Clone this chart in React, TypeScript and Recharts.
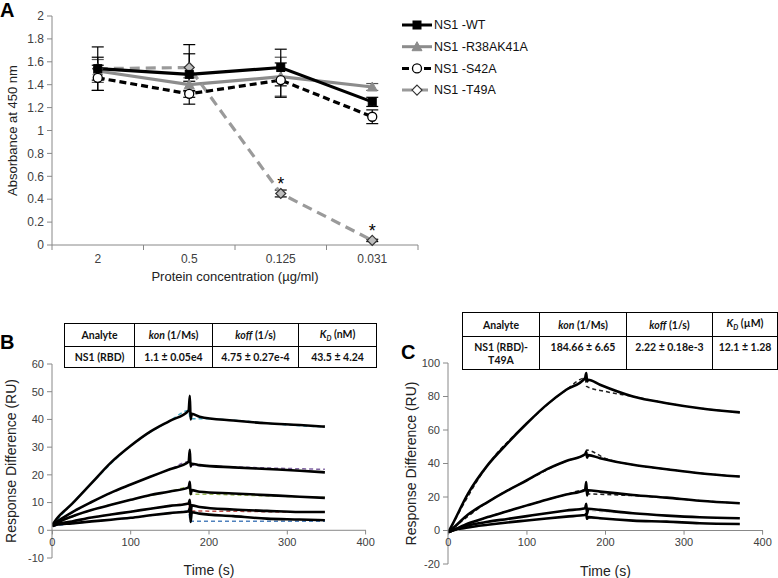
import { LineChart, Line, XAxis, YAxis, ErrorBar, LabelList, Legend, ReferenceLine } from 'recharts';

const FONT = '"Liberation Sans", Arial, sans-serif';
const AXIS = '#888';
const TICK = '#404040';

// ---- panel A: absorbance vs protein concentration ----
const concentrations = ['2', '0.5', '0.125', '0.031'];
const wtValues = [1.54, 1.49, 1.55, 1.25];
const wtErrors = [0.19, 0.26, 0.16, 0.04];
const r38Values = [1.52, 1.4, 1.47, 1.38];
const r38Errors = [0.1, 0.06, 0.17, 0.03];
const s42Values = [1.46, 1.32, 1.44, 1.12];
const s42Errors = [0.11, 0.03, 0.15, 0.06];
const t49Values = [1.54, 1.55, 0.45, 0.04];
const t49Errors = [0.1, 0.12, 0.03, 0.01];
const t49Stars = ['', '', '*', '*'];
const absTicks = [0, 0.2, 0.4, 0.6, 0.8, 1, 1.2, 1.4, 1.6, 1.8, 2];
const concTicks = [0, 0.5, 1, 1.5, 2, 2.5, 3, 3.5, 4];

// ---- panel B: NS1 (RBD) sensorgram ----
const bTimes = [0, 5, 25, 50, 75, 100, 125, 150, 174, 175.5, 176.5, 178, 188, 231, 274, 316, 348];
const bCurve1 = [2, 4, 9.5, 17, 24.5, 30.5, 35.6, 39.5, 43.2, 48.5, 40, 42, 41, 39.6, 38.6, 38, 37.4];
const bCurve2 = [2, 3, 6.5, 10.2, 13.6, 16.5, 19.3, 22, 24.7, 29, 23, 24, 23.5, 22.7, 22.1, 21.5, 20.9];
const bCurve3 = [2, 2.7, 5, 7.3, 9.2, 11, 12.7, 14, 15.5, 17.5, 13, 14.5, 13.9, 13.3, 12.7, 12.1, 11.7];
const bCurve4 = [1.5, 2.2, 3.2, 4.6, 5.7, 6.7, 7.8, 8.8, 9.7, 11, 6, 9, 8.4, 7.5, 7, 6.6, 6.6];
const bCurve5 = [1.5, 2, 2.5, 3.2, 3.8, 4.5, 5.4, 6.2, 6.9, 8, 3, 6.5, 6, 5.1, 4.2, 3.9, 3.6];
const bFitTimes = [0, 50, 100, 150, 174, 176, 200, 250, 300, 348];
const bFit1 = [2, 17, 30.5, 39.5, 43.2, 40.3, 40.2, 39.3, 38, 37.3];
const bFit2 = [2, 10.2, 16.5, 22, 24.7, 23.6, 23.2, 22.7, 22.3, 22];
const bFit3 = [2, 7.3, 11, 14, 15.5, 13, 13, 12.6, 12.2, 11.8];
const bFit4 = [1.5, 4.6, 6.7, 8.8, 9.7, 7, 6.9, 6.8, 6.6, 6.6];
const bFit5 = [1.5, 3.2, 4.5, 6.2, 6.9, 3.3, 3.3, 3.3, 3.3, 3.3];
const bFitColors = ['#4bacc6', '#8064a2', '#9bbb59', '#c0504d', '#4f81bd'];
const bTicks = [-10, 0, 10, 20, 30, 40, 50, 60];

// ---- panel C: NS1 (RBD)-T49A sensorgram ----
const cTimes = [0, 5, 25, 50, 75, 100, 125, 150, 174, 175.5, 176.5, 178, 193, 235, 278, 320, 371];
const cCurve1 = [-1, 3.5, 22, 39, 52, 64, 75, 84, 91, 94, 89, 90, 87, 80, 76, 73, 70.5];
const cCurve2 = [-1, 1, 9.5, 17, 23.8, 30, 36.5, 41.5, 45.5, 47, 43.5, 45, 43.2, 39.2, 36.6, 34.2, 32.2];
const cCurve3 = [-1, 0, 4.2, 8, 11.5, 15, 18.4, 21.5, 24.2, 29, 21, 24, 23.2, 21.2, 19.6, 17.8, 16.3];
const cCurve4 = [-1, 0, 3, 5.2, 6.9, 8.6, 10.3, 11.9, 13.3, 16, 10, 13, 12.3, 10.3, 8.9, 7.9, 7.3];
const cCurve5 = [-1, 0, 1.8, 3.4, 4.8, 6, 7.2, 8.3, 9.2, 10, 7, 8, 7.3, 5.9, 5.3, 4.3, 3.9];
const cFitTimes = [0, 50, 100, 150, 174, 176, 200, 235, 278, 320, 371];
const cFit1 = [-1, 39, 64, 84, 91, 86, 83, 80, 76, 73, 70.5];
const cFit2 = [-1, 17, 30, 41.5, 45.5, 48, 43, 39.2, 36.6, 34.2, 32.2];
const cFit3 = [-1, 8, 15, 21.5, 24.2, 22, 21.5, 20.8, 19.6, 17.8, 16.3];
const cFit4 = [-1, 5.2, 8.6, 11.9, 13.3, 12, 11, 10.1, 8.9, 7.9, 7.3];
const cFit5 = [-1, 3.4, 6, 8.3, 9.2, 7.5, 6.8, 5.9, 5.3, 4.3, 3.9];
const cFitColors = ['#222', '#222', '#222', '#ddd', '#ddd'];
const cTicks = [-20, 0, 20, 40, 60, 80, 100];
const timeTicks = [0, 100, 200, 300, 400];

// ---- kinetics tables ----
const bHeaders = [
  { it: '', txt: 'Analyte' },
  { it: 'kon', txt: ' (1/Ms)' },
  { it: 'koff', txt: ' (1/s)' },
  { it: 'K', sub: 'D', txt: ' (nM)' },
];
const bRow = ['NS1 (RBD)', '1.1 ± 0.05e4', '4.75 ± 0.27e-4', '43.5 ± 4.24'];
const cHeaders = [
  { it: '', txt: 'Analyte' },
  { it: 'kon', txt: ' (1/Ms)' },
  { it: 'koff', txt: ' (1/s)' },
  { it: 'K', sub: 'D', txt: ' (µM)' },
];
const cRow = ['NS1 (RBD)-\nT49A', '184.66 ± 6.65', '2.22 ± 0.18e-3', '12.1 ± 1.28'];

const aData = concentrations.map((c, i) => ({
  pos: i + 0.5,
  conc: c,
  wt: wtValues[i], wtErr: wtErrors[i],
  r38: r38Values[i], r38Err: r38Errors[i],
  s42: s42Values[i], s42Err: s42Errors[i],
  t49: t49Values[i], t49Err: t49Errors[i],
  star: t49Stars[i],
}));

const toPoints = (times: number[], vals: number[]) => times.map((t, i) => ({ t, v: vals[i] }));

const aSeries = [
  { key: 'wt', name: 'NS1 -WT', color: '#000', dash: undefined, shape: 'square', fill: '#000', stroke: '#000' },
  { key: 'r38', name: 'NS1 -R38AK41A', color: '#8c8c8c', dash: undefined, shape: 'triangle', fill: '#8c8c8c', stroke: '#8c8c8c' },
  { key: 's42', name: 'NS1 -S42A', color: '#000', dash: '7 4', shape: 'circle', fill: '#fff', stroke: '#000' },
  { key: 't49', name: 'NS1 -T49A', color: '#9a9a9a', dash: '10 6', shape: 'diamond', fill: '#bdbdbd', stroke: '#333' },
];

function Marker({ shape, cx, cy, fill, stroke }: any) {
  if (cx == null || cy == null) return null;
  if (shape === 'square') return <rect x={cx - 4} y={cy - 4} width={8} height={8} fill={fill} stroke={stroke} />;
  if (shape === 'triangle') return <path d={`M${cx},${cy - 5} L${cx + 5},${cy + 4} L${cx - 5},${cy + 4} Z`} fill={fill} stroke={stroke} />;
  if (shape === 'circle') return <circle cx={cx} cy={cy} r={4.5} fill={fill} stroke={stroke} strokeWidth={1.3} />;
  return <path d={`M${cx},${cy - 5} L${cx + 5},${cy} L${cx},${cy + 5} L${cx - 5},${cy} Z`} fill={fill} stroke={stroke} strokeWidth={1.2} />;
}

const dotFor = (s: any) => (props: any) => (
  <Marker key={`${s.key}-dot-${props.index}`} shape={s.shape} cx={props.cx} cy={props.cy} fill={s.fill} stroke={s.stroke} />
);

const renderConcTick = (props: any) => {
  const { x, y, payload, index } = props;
  const v = payload.value;
  if (Number.isInteger(v)) return <line key={`ct-${index}`} x1={x} x2={x} y1={y} y2={y + 5} stroke={AXIS} />;
  return (
    <text key={`ct-${index}`} x={x} y={y + 9} dy="0.71em" textAnchor="middle" fontSize={12} style={{ fill: TICK }} fontFamily={FONT}>
      {concentrations[Math.floor(v)]}
    </text>
  );
};

// x axis of the sensorgrams crosses at y = 0: tick marks and labels hang from that line
const timeMarks = (tickLen: number) =>
  timeTicks.map((t) => (
    <ReferenceLine
      key={`tm-${t}`}
      segment={[{ x: t, y: 0 }, { x: t, y: -tickLen }]}
      stroke={AXIS}
      ifOverflow="visible"
      label={{ value: String(t), position: 'bottom', offset: 4, style: { fontSize: 11, fill: TICK, fontFamily: FONT } }}
    />
  ));

const renderStar = (props: any) => {
  const { x, y, value, index } = props;
  if (!value) return null;
  return (
    <text key={`star-${index}`} x={x} y={y - 3} textAnchor="middle" fontSize={18} fill="#000" fontFamily={FONT}>
      {value}
    </text>
  );
};

const renderLegend = () => (
  <svg width={140} height={90} style={{ overflow: 'visible' }}>
    {aSeries.map((s, i) => (
      <g key={s.key} transform={`translate(0, ${10 + i * 21.7})`}>
        <line x1={0} y1={0} x2={30} y2={0} stroke={s.color} strokeWidth={3} strokeDasharray={s.dash} />
        <Marker shape={s.shape} cx={15} cy={0} fill={s.shape === 'diamond' ? '#fff' : s.fill} stroke={s.stroke} />
        <text x={32} y={0} dy="0.35em" fontSize={12.5} fill="#111" fontFamily={FONT}>{s.name}</text>
      </g>
    ))}
  </svg>
);

const cellBase: any = { border: '1px solid #000', padding: 0, textAlign: 'center', verticalAlign: 'middle', fontWeight: 'bold' };

function KineticsTable({ headers, row, left, top, widths, heights, tall }: any) {
  return (
    <table
      style={{
        position: 'absolute', left, top, borderCollapse: 'collapse', tableLayout: 'fixed',
        width: widths.reduce((a: number, b: number) => a + b, 0),
        fontFamily: 'Lato, "Open Sans", sans-serif', fontSize: 10.5, color: '#111', background: '#fff', zIndex: 2,
      }}
    >
      <colgroup>
        {widths.map((w: number, i: number) => <col key={i} style={{ width: w }} />)}
      </colgroup>
      <tbody>
        <tr style={{ height: heights[0] }}>
          {headers.map((h: any, i: number) => (
            <td key={i} style={cellBase}>
              {h.it && <i>{h.it}</i>}
              {h.sub && <sub style={{ fontSize: 7, fontStyle: 'italic' }}>{h.sub}</sub>}
              {h.txt}
            </td>
          ))}
        </tr>
        <tr style={{ height: heights[1] }}>
          {row.map((c: string, i: number) => (
            <td key={i} style={{ ...cellBase, verticalAlign: tall ? 'top' : 'middle', paddingTop: tall ? 4 : 0, whiteSpace: 'pre-line', lineHeight: '13px' }}>
              {c}
            </td>
          ))}
        </tr>
      </tbody>
    </table>
  );
}

function Sensorgram({ curves, fits, times, fitTimes, fitColors, domain, ticks, width, height, margin, tickLen, xHeight, labelOffset, yLabelOffset }: any) {
  return (
    <LineChart width={width} height={height} margin={margin}>
      <XAxis
        type="number" dataKey="t" domain={[-0.5, 400.5]} allowDataOverflow ticks={timeTicks} interval={0}
        axisLine={false} tickLine={false} tick={false} height={xHeight}
        label={{ value: 'Time (s)', position: 'insideBottom', offset: labelOffset, style: { fontSize: 14, fill: '#222', fontFamily: FONT } }}
      />
      <YAxis
        type="number" domain={domain} ticks={ticks} interval={0} width={52} stroke={AXIS}
        tickSize={5} tickMargin={3} tick={{ fontSize: 11, fill: TICK, fontFamily: FONT }}
        label={{ value: 'Response Difference (RU)', angle: -90, position: 'insideLeft', offset: yLabelOffset, style: { textAnchor: 'middle', fontSize: 14, fill: '#222', fontFamily: FONT } }}
      />
      <ReferenceLine y={0} stroke={AXIS} ifOverflow="visible" />
      {timeMarks(tickLen)}
      {fits.map((f: number[], i: number) => (
        <Line key={`fit-${i}`} data={toPoints(fitTimes, f)} dataKey="v" type="monotone" stroke={fitColors[i]} strokeWidth={1.5} strokeDasharray="4 3" dot={false} activeDot={false} isAnimationActive={false} />
      ))}
      {curves.map((c: number[], i: number) => (
        <Line key={`curve-${i}`} data={toPoints(times, c)} dataKey="v" type="monotone" stroke="#000" strokeWidth={2.6} dot={false} activeDot={false} isAnimationActive={false} />
      ))}
    </LineChart>
  );
}

const panelLetter: any = { position: 'absolute', fontFamily: FONT, fontWeight: 'bold', fontSize: 20, color: '#000', lineHeight: '20px' };

export default function App() {
  const drawOrder = [aSeries[1], aSeries[3], aSeries[2], aSeries[0]];
  return (
    <div style={{ position: 'absolute', left: 0, top: 0, width: 778, height: 578, background: '#fff', overflow: 'hidden', fontFamily: FONT }}>
      <div style={{ ...panelLetter, left: 0, top: 0 }}>A</div>
      <div style={{ ...panelLetter, left: 0, top: 332 }}>B</div>
      <div style={{ ...panelLetter, left: 401, top: 342 }}>C</div>

      <div style={{ position: 'absolute', left: 0, top: 0 }}>
        <LineChart width={560} height={290} data={aData} margin={{ top: 16, right: 142, left: 0, bottom: 0 }}>
          <XAxis
            type="number" dataKey="pos" domain={[0, 4]} ticks={concTicks} interval={0}
            stroke={AXIS} tickLine={false} tickSize={0} tickMargin={0} height={45}
            tick={renderConcTick}
            label={{ value: 'Protein concentration (µg/ml)', position: 'insideBottom', offset: 9, style: { fontSize: 13, fill: '#222', fontFamily: FONT } }}
          />
          <YAxis
            type="number" domain={[0, 2]} ticks={absTicks} interval={0} width={52} stroke={AXIS}
            tickSize={5} tickMargin={3} tick={{ fontSize: 12, fill: TICK, fontFamily: FONT }}
            label={{ value: 'Absorbance at 450 nm', angle: -90, position: 'insideLeft', offset: 12, style: { textAnchor: 'middle', fontSize: 13, fill: '#222', fontFamily: FONT } }}
          />
          <Legend content={renderLegend} layout="horizontal" align="center" verticalAlign="middle" width={140} height={90} wrapperStyle={{ left: 402, top: 15, width: 140, height: 90 }} />
          {drawOrder.map((s) => (
            <Line
              key={s.key} dataKey={s.key} name={s.name} type="linear" stroke={s.color} strokeWidth={3.2}
              strokeDasharray={s.dash} dot={dotFor(s)} activeDot={false} isAnimationActive={false}
            >
              <ErrorBar dataKey={`${s.key}Err`} width={6} strokeWidth={1.2} stroke={s.key === 'r38' ? '#555' : '#000'} direction="y" isAnimationActive={false} />
              {s.key === 't49' && <LabelList dataKey="star" content={renderStar} />}
            </Line>
          ))}
        </LineChart>
      </div>

      <div style={{ position: 'absolute', left: 0, top: 350 }}>
        <Sensorgram
          curves={[bCurve1, bCurve2, bCurve3, bCurve4, bCurve5]}
          fits={[bFit1, bFit2, bFit3, bFit4, bFit5]}
          times={bTimes} fitTimes={bFitTimes} fitColors={bFitColors}
          domain={[-10, 60]} ticks={bTicks}
          width={390} height={228} margin={{ top: 14, right: 24, left: 0, bottom: 0 }}
          tickLen={1.5} xHeight={20} labelOffset={3} yLabelOffset={11}
        />
      </div>

      <div style={{ position: 'absolute', left: 396, top: 350 }}>
        <Sensorgram
          curves={[cCurve1, cCurve2, cCurve3, cCurve4, cCurve5]}
          fits={[cFit1, cFit2, cFit3, cFit4, cFit5]}
          times={cTimes} fitTimes={cFitTimes} fitColors={cFitColors}
          domain={[-20, 100]} ticks={cTicks}
          width={382} height={228} margin={{ top: 13, right: 15, left: 0, bottom: 0 }}
          tickLen={2.5} xHeight={14} labelOffset={2} yLabelOffset={15}
        />
      </div>

      <KineticsTable headers={bHeaders} row={bRow} left={64} top={323} widths={[70, 78, 86, 78]} heights={[23, 21]} />
      <KineticsTable headers={cHeaders} row={cRow} left={462} top={312} widths={[77, 87, 86, 65]} heights={[24, 33]} tall />
    </div>
  );
}
